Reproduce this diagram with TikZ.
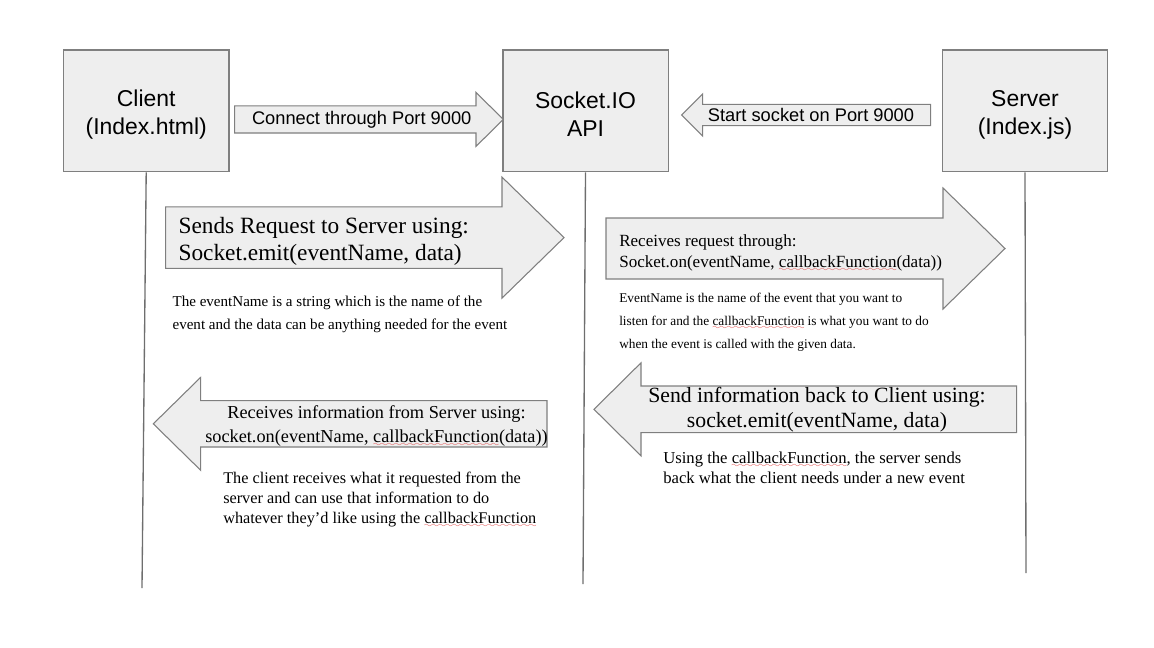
\documentclass[tikz,border=0pt]{standalone}
\usepackage{fontspec}
\setmainfont{Liberation Serif}
\setsansfont{Liberation Sans}
\usepackage{tikz}
\usetikzlibrary{positioning}
\definecolor{Shade}{HTML}{EEEEEE}
\definecolor{Edge}{HTML}{7F7F7F}
\definecolor{Life}{HTML}{6E6E6E}
\definecolor{Squig}{HTML}{E03C3C}
\font\wavefont=lasy6
\newsavebox{\wavebox}
\newcommand{\spellwave}[1]{\leavevmode\sbox{\wavebox}{#1}%
  \rlap{\textcolor{Squig}{\lower3pt\hbox to\wd\wavebox{\xleaders\hbox{\wavefont\char58}\hfill}}}\usebox{\wavebox}}
% block arrows: tail x, tip x, mid y, body half, head half, head base x
\newcommand{\blockR}[6]{%
  \draw[blk] (#1,#3-#4) -- (#6,#3-#4) -- (#6,#3-#5) -- (#2,#3) -- (#6,#3+#5) -- (#6,#3+#4) -- (#1,#3+#4) -- cycle;}
\newcommand{\blockL}[6]{%
  \draw[blk] (#1,#3) -- (#6,#3-#5) -- (#6,#3-#4) -- (#2,#3-#4) -- (#2,#3+#4) -- (#6,#3+#4) -- (#6,#3+#5) -- cycle;}

\begin{document}
\begin{tikzpicture}[x=0.75pt,y=-0.75pt,
  actor/.style={draw=Edge,line width=1pt,fill=Shade,minimum width=124pt,minimum height=91.3pt,
    align=center,font=\sffamily\fontsize{17.2}{21}\selectfont},
  life/.style={draw=Life,line width=1pt},
  blk/.style={draw=Edge,line width=0.8pt,fill=Shade,line join=miter},
  tag/.style={inner sep=0pt,font=\sffamily\fontsize{13.7}{16}\selectfont},
  txt/.style={inner sep=0pt,align=left,anchor=base west}]
  \useasboundingbox (0,0) rectangle (1154,647);

  % actors and their lifelines
  \foreach \nm/\cx/\lab/\ex/\ey in {
    client/146.2/{Client\\(Index.html)}/142/588,
    api/585.5/{Socket.IO\\API}/583/584,
    server/1025/{Server\\(Index.js)}/1026/573} {
    \node[actor] (\nm) at (\cx,110.9) {\rule{0pt}{17.5pt}\lab};
    \coordinate (\nm-end) at (\ex,\ey);
    \draw[life] (\nm.south) -- (\nm-end);
  }

  % setup
  \blockR{234.7}{503.3}{119.4}{13.6}{27}{476}
  \node[tag] (connect) at (361.7,119.4) {Connect through Port 9000};
  \blockL{681.7}{930.7}{115}{10.7}{21}{702.7}
  \node[tag] (startsock) at (811,115) {Start socket on Port 9000};

  % request (base = last line)
  \blockR{165.7}{564}{237.6}{30.8}{60.5}{502}
  \node[txt,font=\fontsize{17.5}{20.25}\selectfont] (sendreq) at (178.3,260.3)
    {Sends Request to Server using:\\Socket.emit(eventName, data)};
  \node[txt,font=\fontsize{11.3}{17.6}\selectfont] (sendnote) at (172.3,329.5)
    {The eventName is a string which is the name of the\\event and the data can be anything needed for the event};

  \blockR{606}{1005}{248.5}{30.5}{60.5}{943}
  \node[txt,font=\fontsize{12.8}{15.75}\selectfont] (recvreq) at (619,267)
    {Receives request through:\\Socket.on(eventName, \spellwave{callbackFunction}(data))};
  \node[txt,font=\fontsize{10}{16.9}\selectfont] (recvnote) at (619,348)
    {EventName is the name of the event that you want to\\listen for and the \spellwave{callbackFunction} is what you want to do\\when the event is called with the given data.};

  % reply
  \blockL{594}{1016.7}{409.3}{23.3}{46.5}{641}
  \node[inner sep=0pt,align=center,anchor=base,font=\fontsize{16.3}{18.75}\selectfont] (sendback) at (817,427.7)
    {Send information back to Client using:\\socket.emit(eventName, data)};
  \node[txt,font=\fontsize{12.5}{15}\selectfont] (sendbacknote) at (663,483)
    {Using the \spellwave{callbackFunction}, the server sends\\back what the client needs under a new event};

  \blockL{153.3}{547}{423.8}{23.2}{46.5}{200.7}
  \node[inner sep=0pt,align=center,anchor=base,font=\fontsize{13.7}{18}\selectfont] (recvinfo) at (376.5,442)
    {Receives information from Server using:\\socket.on(eventName, \spellwave{callbackFunction}(data))};
  \node[txt,font=\fontsize{12.2}{15}\selectfont] (recvinfonote) at (223,523)
    {The client receives what it requested from the\\server and can use that information to do\\whatever they’d like using the \spellwave{callbackFunction}};
\end{tikzpicture}
\end{document}
